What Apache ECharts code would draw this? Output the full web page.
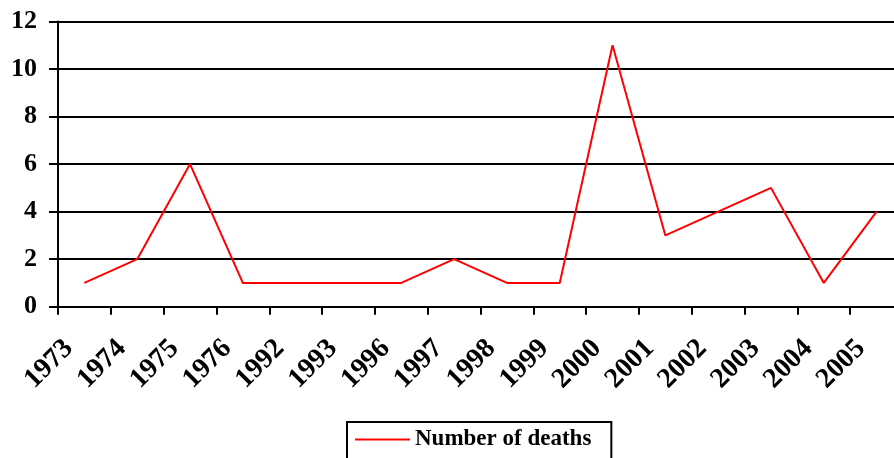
<!DOCTYPE html>
<html>
<head>
<meta charset="utf-8">
<script src="https://cdn.jsdelivr.net/npm/echarts@6/dist/echarts.min.js"></script>
<style>
  html, body { margin: 0; padding: 0; background: #fff; }
  #chart { width: 894px; height: 458px; }
</style>
</head>
<body>
<div id="chart"></div>
<script>
// 年份（类目）
const years = ['1973', '1974', '1975', '1976', '1992', '1993', '1996', '1997',
  '1998', '1999', '2000', '2001', '2002', '2003', '2004', '2005']
// 死亡人数
const deaths = [1, 2, 6, 1, 1, 1, 1, 2, 1, 1, 11, 3, 4, 5, 1, 4]
const seriesName = 'Number of deaths'

const serif = '"Times New Roman", "Liberation Serif", serif'

const chart = echarts.init(document.getElementById('chart'))

chart.setOption({
  animation: false,
  backgroundColor: '#fff',
  // 图表右侧被裁切，绘图区超出画布
  grid: {
    left: 58,
    width: 845,
    top: 21.5,
    bottom: 151.3,
    containLabel: false,
    outerBoundsMode: 'none'
  },
  xAxis: {
    type: 'category',
    data: years,
    boundaryGap: true,
    axisLine: { lineStyle: { color: '#000', width: 2 } },
    axisTick: { show: true, length: 8, lineStyle: { color: '#000', width: 2 } },
    axisLabel: {
      rotate: 45,
      margin: 22,
      padding: [0, 22, 0, 0],
      interval: 0,
      color: '#000',
      fontFamily: serif,
      fontWeight: 'bold',
      fontSize: 28
    }
  },
  yAxis: {
    type: 'value',
    min: 0,
    max: 12,
    interval: 2,
    axisLine: { show: true, lineStyle: { color: '#000', width: 2 } },
    axisTick: { show: true, length: 9, lineStyle: { color: '#000', width: 2 } },
    splitLine: { lineStyle: { color: '#000', width: 2 } },
    axisLabel: {
      margin: 21,
      color: '#000',
      fontFamily: serif,
      fontWeight: 'bold',
      fontSize: 26
    }
  },
  legend: {
    left: 347,
    top: 422,
    padding: [6, 20, 20, 8],
    borderColor: '#000',
    borderWidth: 2,
    itemWidth: 55,
    itemHeight: 2,
    itemGap: 0,
    data: [{ name: seriesName, icon: 'rect' }],
    textStyle: {
      color: '#000',
      fontFamily: serif,
      fontWeight: 'bold',
      fontSize: 23
    }
  },
  series: [
    {
      name: seriesName,
      type: 'line',
      data: deaths,
      symbol: 'none',
      lineStyle: { color: '#ff0000', width: 2 },
      itemStyle: { color: '#ff0000' }
    }
  ]
})
</script>
</body>
</html>
